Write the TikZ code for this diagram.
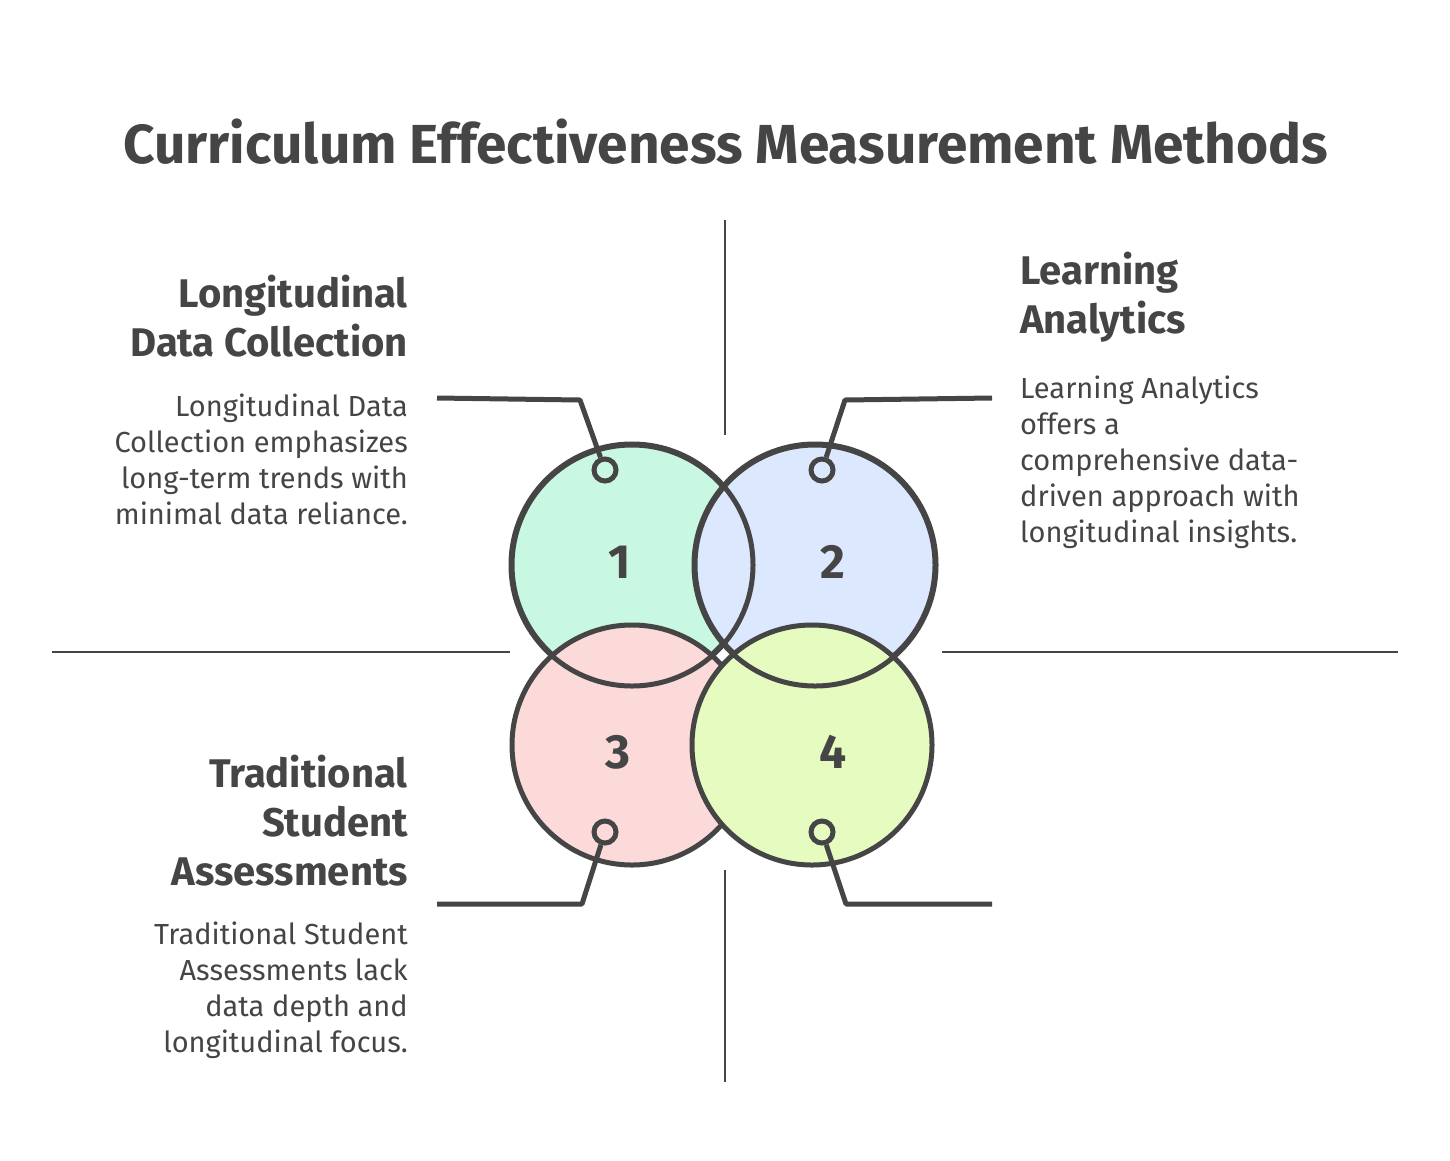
\documentclass[tikz,border=0pt]{standalone}
\usepackage{fontspec}
\setmainfont{Fira Sans}
\usetikzlibrary{positioning,calc}
\definecolor{ink}{HTML}{454545}
\definecolor{cgreen}{HTML}{C8F7E2}
\definecolor{cblue}{HTML}{DCE8FD}
\definecolor{cred}{HTML}{FDDADA}
\definecolor{cyellow}{HTML}{E6FBC0}
\begin{document}
\begin{tikzpicture}[x=1pt,y=-1pt]
  \tikzset{disc/.style={circle, draw=ink, line width=5pt, minimum size=240pt, inner sep=0pt}}
  \tikzset{digit/.style={text=ink, font=\fontsize{48}{54}\selectfont\bfseries}}
  \tikzset{ring/.style={circle, draw=ink, line width=5pt, minimum size=22pt, inner sep=0pt, fill=none}}
  \tikzset{lead/.style={draw=ink, line width=5pt, line join=round}}
  \tikzset{axis/.style={draw=ink, line width=2.5pt}}
  \tikzset{heading/.style={text=ink, font=\fontsize{40}{49}\selectfont\bfseries, inner sep=0pt}}
  \tikzset{body/.style={text=ink, font=\fontsize{29}{36}\selectfont, inner sep=0pt}}
  \useasboundingbox (0,0) rectangle (1450,1160);

  \node[text=ink, font=\fontsize{55}{60}\selectfont\bfseries] (title) at (726,142) {Curriculum Effectiveness Measurement Methods};

  % quadrant axes
  \coordinate (vt1) at (725,220); \coordinate (vt2) at (725,435);
  \coordinate (vb1) at (725,870); \coordinate (vb2) at (725,1082);
  \coordinate (hl1) at (52,652); \coordinate (hl2) at (510,652);
  \coordinate (hr1) at (942,652); \coordinate (hr2) at (1398,652);
  \path[axis] (vt1) -- (vt2);
  \path[axis] (vb1) -- (vb2);
  \path[axis] (hl1) -- (hl2);
  \path[axis] (hr1) -- (hr2);

  % circles
  \node[disc, fill=cgreen] (c1) at (632,565) {};
  \node[disc, fill=cblue] (c2) at (815,565) {};
  \node[disc, fill=cred] (c3) at (632,745) {};
  \node[disc, fill=cyellow] (c4) at (812,745) {};
  \draw[ink, line width=5pt] (c1) circle (121pt);
  \draw[ink, line width=5pt] (c2) circle (121pt);
  \node[digit] (n1) at (620,562) {1};
  \node[digit] (n2) at (833,562) {2};
  \node[digit] (n3) at (618,752) {3};
  \node[digit] (n4) at (833,752) {4};

  % rings and leads
  \node[ring] (r1) at (605,470) {};
  \node[ring] (r2) at (822,470) {};
  \node[ring] (r3) at (605,832) {};
  \node[ring] (r4) at (822,832) {};
  \coordinate (a1) at (437,398); \coordinate (b1) at (580,400);
  \coordinate (a2) at (992,398); \coordinate (b2) at (845,400);
  \coordinate (a3) at (437,904); \coordinate (b3) at (582,904);
  \coordinate (a4) at (992,904); \coordinate (b4) at (846,904);
  \path[lead] (a1) -- (b1) -- (r1);
  \path[lead] (a2) -- (b2) -- (r2);
  \path[lead] (a3) -- (b3) -- (r3);
  \path[lead] (a4) -- (b4) -- (r4);

  % texts
  \node[heading, align=right, anchor=north east] (h1) at (408,275) {Longitudinal\\Data Collection};
  \node[body, align=right, anchor=north east] (t1) at (408,394) {Longitudinal Data\\Collection emphasizes\\long-term trends with\\minimal data reliance.};
  \node[heading, align=left, anchor=north west] (h2) at (1020,252) {Learning\\Analytics};
  \node[body, align=left, anchor=north west] (t2) at (1020,376) {Learning Analytics\\offers a\\comprehensive data-\\driven approach with\\longitudinal insights.};
  \node[heading, align=right, anchor=north east] (h3) at (408,755) {Traditional\\Student\\Assessments};
  \node[body, align=right, anchor=north east] (t3) at (408,922) {Traditional Student\\Assessments lack\\data depth and\\longitudinal focus.};
\end{tikzpicture}
\end{document}
